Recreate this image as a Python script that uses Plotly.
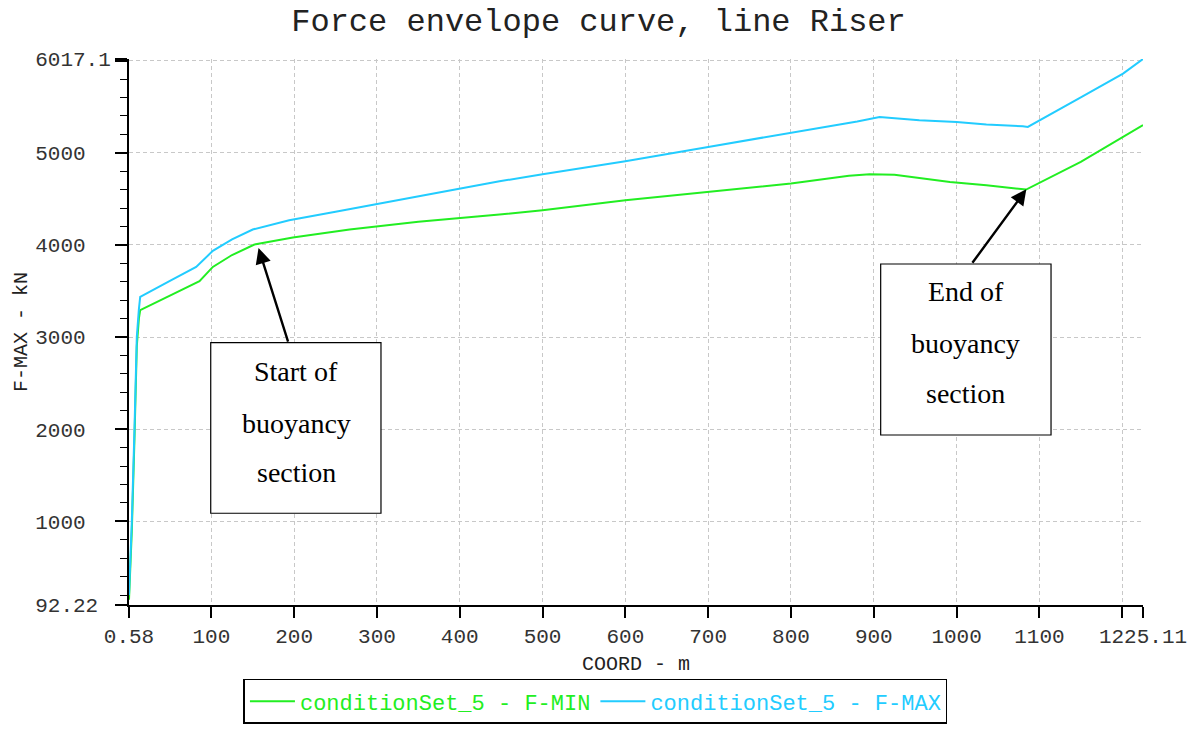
import plotly.graph_objects as go

# ---- data ----
COORD_MIN = [0.58, 2, 4, 7.2, 10, 12.5, 14.1, 50, 85.7, 101.8, 125, 152, 198.5, 267, 350,
             448, 500, 600, 700, 800, 870, 895, 925, 944, 992, 1036, 1084, 1150, 1201, 1225.11]
F_MIN = [150, 450, 900, 1900, 2900, 3200, 3292, 3450, 3606, 3761, 3890, 4004, 4080, 4167, 4250,
         4330, 4376, 4484, 4575, 4666, 4750, 4767, 4760, 4737, 4683, 4647, 4600, 4900, 5171, 5300]

COORD_MAX = [0.58, 2, 4, 7.2, 10, 12.5, 14.1, 50, 81.7, 101.8, 125, 150, 194, 250, 300,
             448, 500, 600, 700, 800, 880, 907, 955, 1000, 1036, 1080, 1086, 1150, 1201, 1225.11]
F_MAX = [200, 520, 1000, 2000, 3000, 3300, 3436, 3609, 3761, 3935, 4060, 4167, 4268, 4360, 4444,
         4690, 4767, 4908, 5063, 5214, 5340, 5388, 5352, 5334, 5305, 5287, 5280, 5600, 5858, 6017.1]

X_TICKS = [0.58, 100, 200, 300, 400, 500, 600, 700, 800, 900, 1000, 1100, 1200, 1225.11]
X_LABELS = ["0.58", "100", "200", "300", "400", "500", "600", "700", "800", "900",
            "1000", "1100", "", "1225.11"]
Y_TICKS = [92.22, 1000, 2000, 3000, 4000, 5000, 6000, 6017.1]
Y_LABELS = ["92.22", "1000", "2000", "3000", "4000", "5000", "", "6017.1"]
Y_MINOR = [v for v in range(200, 6001, 200) if v % 1000 != 0]

GREEN = "#22ee22"
BLUE = "#22ccff"
MONO = "Liberation Mono, Courier New, monospace"
SERIF = "Liberation Serif, Times New Roman, serif"

# left-align y labels (monospace padding)
w = max(len(s) for s in Y_LABELS)
Y_LABELS_P = [s + "\u00a0" * (w - len(s)) if s else s for s in Y_LABELS]

fig = go.Figure()
fig.add_trace(go.Scatter(x=COORD_MIN, y=F_MIN, mode="lines",
                         line=dict(color=GREEN, width=2),
                         name='<span style="color:%s">conditionSet_5 - F-MIN</span>' % GREEN))
fig.add_trace(go.Scatter(x=COORD_MAX, y=F_MAX, mode="lines",
                         line=dict(color=BLUE, width=2),
                         name='<span style="color:%s">conditionSet_5 - F-MAX</span>' % BLUE))

grid = dict(showgrid=True, gridcolor="#c8c8c8", gridwidth=1.2, griddash="4px,3px")

fig.update_xaxes(range=[0.58, 1225.11], tickmode="array", tickvals=X_TICKS, ticktext=X_LABELS,
                 ticks="outside", ticklen=11, tickwidth=1.6, tickcolor="black",
                 showline=True, linecolor="black", linewidth=2, zeroline=False, automargin=False,
                 tickfont=dict(family=MONO, size=21, color="#333"),
                 title=dict(text="COORD - m", font=dict(family=MONO, size=20, color="#222"),
                            standoff=8),
                 **grid)
fig.update_yaxes(range=[92.22, 6017.1], tickmode="array", tickvals=Y_TICKS, ticktext=Y_LABELS_P,
                 ticks="outside", ticklen=12, tickwidth=1.6, tickcolor="black",
                 showline=True, linecolor="black", linewidth=2, zeroline=False, automargin=False,
                 minor=dict(tickmode="array", tickvals=Y_MINOR, ticks="outside", ticklen=7,
                            tickwidth=1.4, tickcolor="black", showgrid=False),
                 tickfont=dict(family=MONO, size=21, color="#333"),
                 title=dict(text="F-MAX - kN", font=dict(family=MONO, size=20, color="#222"),
                            standoff=2),
                 **grid)

# annotation boxes
boxes = [
    dict(x0=0.0806, x1=0.2485, y0=0.168, y1=0.4804, xc=0.1647,
         lines=[("Start of", 0.4273), ("buoyancy", 0.3333), ("section", 0.2423)]),
    dict(x0=0.7413, x1=0.9093, y0=0.3114, y1=0.6245, xc=0.8254,
         lines=[("End of", 0.5738), ("buoyancy", 0.4793), ("section", 0.3877)]),
]
for b in boxes:
    fig.add_shape(type="rect", xref="paper", yref="paper", x0=b["x0"], x1=b["x1"],
                  y0=b["y0"], y1=b["y1"], line=dict(color="black", width=1.2),
                  fillcolor="white", layer="above")
    for t, yy in b["lines"]:
        fig.add_annotation(xref="paper", yref="paper", x=b["xc"], y=yy, text=t,
                           showarrow=False, xanchor="center", yanchor="middle",
                           font=dict(family=SERIF, size=28, color="black"))

# arrows
fig.add_annotation(x=157, y=3965, xref="x", yref="y", text="", showarrow=True,
                   ax=30, ay=95, arrowhead=2, arrowsize=1.3, arrowwidth=2.4,
                   arrowcolor="black", standoff=0)
fig.add_annotation(x=1084.2, y=4603, xref="x", yref="y", text="", showarrow=True,
                   ax=-55, ay=75, arrowhead=2, arrowsize=1.3, arrowwidth=2.4,
                   arrowcolor="black", standoff=0)

fig.update_layout(
    width=1197, height=731,
    margin=dict(l=129, r=54, t=59, b=126, autoexpand=False),
    paper_bgcolor="white", plot_bgcolor="white",
    title=dict(text="Force envelope curve, line Riser", x=0.5, xref="container",
               xanchor="center", y=0.9726, yref="container", yanchor="middle",
               font=dict(family=MONO, size=32, color="#222")),
    showlegend=True,
    legend=dict(orientation="h", x=0.46, xanchor="center", y=-0.1355, yanchor="top",
                bordercolor="black", borderwidth=1.5, bgcolor="white",
                font=dict(family=MONO, size=22), itemwidth=45,
                traceorder="normal"),
)

fig.write_html("out.html", config={"displayModeBar": False},
               post_script="document.body.style.margin='0';document.body.style.overflow='hidden';")
